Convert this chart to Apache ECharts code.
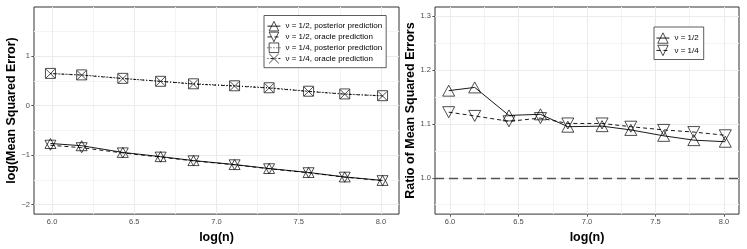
<!DOCTYPE html>
<html>
<head>
<meta charset="utf-8">
<script src="https://cdn.jsdelivr.net/npm/echarts@6/dist/echarts.min.js"></script>
<style>html,body{margin:0;padding:0;background:#fff}#c{width:747px;height:249px}</style>
</head>
<body>
<div id="c"></div>
<script>
// ---- data ----
const logn = [5.99, 6.18, 6.43, 6.66, 6.86, 7.11, 7.32, 7.56, 7.78, 8.01];
// left panel: log(Mean Squared Error)
const post12 = [-0.765, -0.81, -0.945, -1.03, -1.11, -1.19, -1.27, -1.35, -1.44, -1.51];
const orac12 = [-0.80, -0.85, -0.955, -1.04, -1.115, -1.195, -1.275, -1.355, -1.445, -1.515];
const post14 = [0.65, 0.62, 0.55, 0.49, 0.44, 0.40, 0.36, 0.29, 0.235, 0.20];
const orac14 = [0.645, 0.615, 0.545, 0.49, 0.435, 0.395, 0.355, 0.285, 0.23, 0.195];
// right panel: ratio of mean squared errors
const ratio12 = [1.162, 1.168, 1.116, 1.118, 1.095, 1.096, 1.089, 1.078, 1.070, 1.067];
const ratio14 = [1.122, 1.115, 1.105, 1.111, 1.101, 1.101, 1.095, 1.089, 1.085, 1.079];
const refLine = 1.0;
// ticks
const xMajor = [6.0, 6.5, 7.0, 7.5, 8.0];
const xMinor = [6.25, 6.75, 7.25, 7.75];
const yLeftMajor = [-2, -1, 0, 1];
const yLeftMinor = [-1.5, -0.5, 0.5, 1.5];
const yRightMajor = [1.0, 1.1, 1.2, 1.3];
const yRightMinor = [0.95, 1.05, 1.15, 1.25];
const xRange = [5.89, 8.11];
const yLeftRange = [-2.19, 1.99];
const yRightRange = [0.9325, 1.3175];

const FONT = 'Liberation Sans, Arial, Helvetica, sans-serif';
const zip = (xs, ys) => xs.map((x, i) => [x, ys[i]]);
const CROSS = 'path://M0,0L10,10M10,0L0,10';
const UP = 'path://M5,0L10,9L0,9Z';
const DOWN = 'path://M0,0L10,0L5,9Z';
const HOLLOW = {color: 'rgba(0,0,0,0)', borderColor: '#000', borderWidth: 0.7};

function xAxisCfg(gi) {
  return {
    type: 'value', gridIndex: gi, min: xRange[0], max: xRange[1],
    name: 'log(n)', nameLocation: 'middle', nameGap: 13,
    nameTextStyle: {fontSize: 12.5, fontWeight: 'bold', color: '#000', fontFamily: FONT},
    axisLine: {show: false},
    axisTick: {show: true, length: 2.7, lineStyle: {color: '#333', width: 0.8}, customValues: xMajor},
    axisLabel: {customValues: xMajor, formatter: v => v.toFixed(1), fontSize: 7.5, color: '#4d4d4d', margin: 4, fontFamily: FONT},
    splitLine: {show: false}
  };
}
function yAxisCfg(gi, range, major, fmt, name, gap) {
  return {
    type: 'value', gridIndex: gi, min: range[0], max: range[1],
    name: name, nameLocation: 'middle', nameGap: gap,
    nameTextStyle: {fontSize: 12.5, fontWeight: 'bold', color: '#000', fontFamily: FONT},
    axisLine: {show: false},
    axisTick: {show: true, length: 2.7, lineStyle: {color: '#333', width: 0.8}, customValues: major},
    axisLabel: {customValues: major, formatter: fmt, fontSize: 7.5, color: '#4d4d4d', margin: 4, fontFamily: FONT},
    splitLine: {show: false}
  };
}
function gridLines(gi, xs, ys, color) {
  return {
    type: 'line', xAxisIndex: gi, yAxisIndex: gi, data: [], z: 1, silent: true,
    markLine: {
      z: 1, silent: true, symbol: ['none', 'none'], label: {show: false}, animation: false,
      lineStyle: {color: color, width: 1, type: 'solid'},
      emphasis: {disabled: true},
      data: xs.map(v => ({xAxis: v})).concat(ys.map(v => ({yAxis: v})))
    }
  };
}
function dataSeries(gi, name, ys, symbol, size, lineType) {
  return {
    type: 'line', name: name, xAxisIndex: gi, yAxisIndex: gi, z: 3,
    data: zip(logn, ys), symbol: symbol, symbolSize: size,
    lineStyle: {color: '#000', width: 0.9, type: lineType},
    itemStyle: HOLLOW,
    emphasis: {disabled: true}, animation: false
  };
}
const leftNames = ['ν = 1/2, posterior prediction', 'ν = 1/2, oracle prediction',
  'ν = 1/4, posterior prediction', 'ν = 1/4, oracle prediction'];
const rightNames = ['ν = 1/2', 'ν = 1/4'];
const legendCommon = {
  orient: 'vertical', backgroundColor: '#fff', borderColor: '#333', borderWidth: 0.8, borderRadius: 0,
  textStyle: {fontSize: 8, color: '#000', fontFamily: FONT}, selectedMode: false, z: 10,
  itemStyle: HOLLOW, lineStyle: {color: '#000', width: 0.9}, symbolRotate: 0
};

const chart = echarts.init(document.getElementById('c'), null, {renderer: 'canvas'});
chart.setOption({
  animation: false,
  backgroundColor: '#fff',
  textStyle: {fontFamily: FONT},
  grid: [
    {left: 34, top: 7, width: 365, height: 209, show: true, borderColor: '#333', borderWidth: 1, backgroundColor: '#fff'},
    {left: 435, top: 7, width: 304, height: 209, show: true, borderColor: '#333', borderWidth: 1, backgroundColor: '#fff'}
  ],
  xAxis: [xAxisCfg(0), xAxisCfg(1)],
  yAxis: [
    yAxisCfg(0, yLeftRange, yLeftMajor, v => (v < 0 ? '\u2212' + Math.abs(v) : String(v)), 'log(Mean Squared Error)', 16),
    yAxisCfg(1, yRightRange, yRightMajor, v => v.toFixed(1), 'Ratio of Mean Squared Errors', 16.5)
  ],
  legend: [
    Object.assign({}, legendCommon, {
      data: leftNames, left: 264, top: 15.5,
      padding: [5.5, 4, 4, 3], itemWidth: 13, itemHeight: 12, itemGap: 0.5
    }),
    Object.assign({}, legendCommon, {
      data: rightNames, left: 654, top: 27,
      padding: [5.5, 5, 3.5, 2], itemWidth: 13, itemHeight: 13, itemGap: 1.3
    })
  ],
  series: [
    gridLines(0, xMinor, yLeftMinor, '#f4f4f4'),
    gridLines(0, xMajor, yLeftMajor, '#ebebeb'),
    gridLines(1, xMinor, yRightMinor, '#f4f4f4'),
    gridLines(1, xMajor, yRightMajor, '#ebebeb'),
    dataSeries(0, leftNames[0], post12, UP, [11, 10], 'solid'),
    dataSeries(0, leftNames[1], orac12, DOWN, [11, 10], [4, 3]),
    dataSeries(0, leftNames[2], post14, 'rect', 10, [1, 2]),
    dataSeries(0, leftNames[3], orac14, CROSS, 9, [1, 2, 3, 2]),
    {
      type: 'line', xAxisIndex: 1, yAxisIndex: 1, data: [], z: 2, silent: true,
      markLine: {
        z: 2, silent: true, symbol: ['none', 'none'], label: {show: false}, animation: false,
        lineStyle: {color: '#555', width: 1.3, type: [9, 5]},
        emphasis: {disabled: true},
        data: [{yAxis: refLine}]
      }
    },
    dataSeries(1, rightNames[0], ratio12, UP, [12, 11], 'solid'),
    dataSeries(1, rightNames[1], ratio14, DOWN, [12, 11], [4, 3])
  ]
});
</script>
</body>
</html>
